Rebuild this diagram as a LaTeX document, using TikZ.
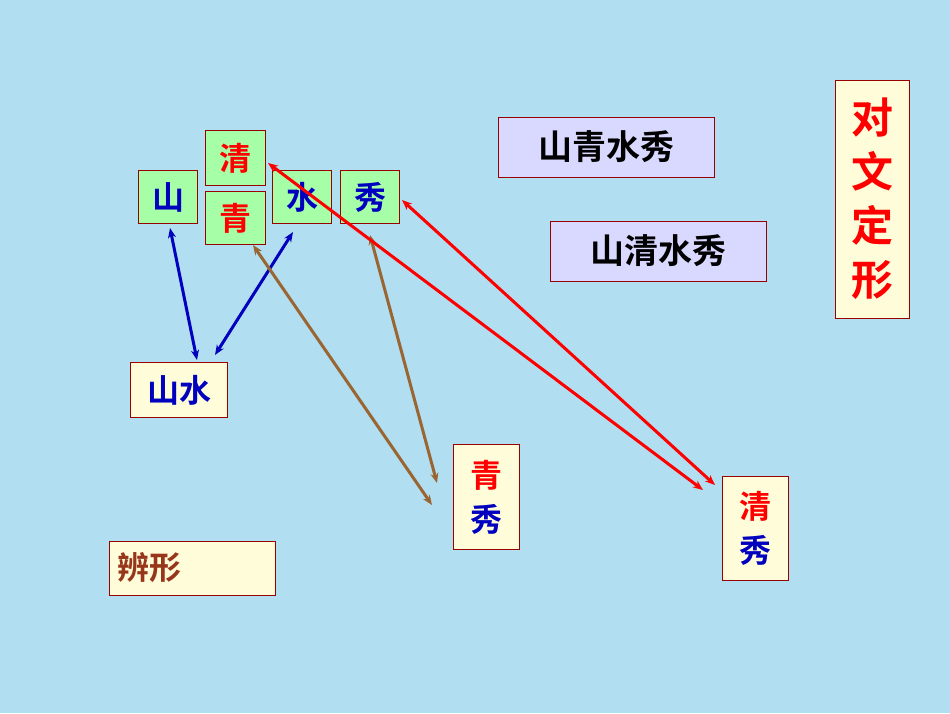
\documentclass[tikz,border=0pt]{standalone}
\usepackage{fontspec}
\usetikzlibrary{arrows.meta}
\newfontfamily\cjk{Noto Sans CJK SC Bold}
\begin{document}
\begin{tikzpicture}[x=1pt,y=-1pt,
 gbox/.style={draw=red!60!black,fill=green!35!white,line width=1pt},
 cbox/.style={draw=red!60!black,fill=yellow!15!white,line width=1pt},
 lbox/.style={draw=red!60!black,fill=blue!15!white,line width=1pt},
 lab/.style={font=\cjk\fontsize{32}{36}\selectfont},
 arr/.style={{Stealth[length=10pt,width=8pt]}-{Stealth[length=10pt,width=8pt]},line width=3pt}]
\fill[cyan!25!white!90!teal] (0,0) rectangle (950,713);
\useasboundingbox (0,0) rectangle (950,713);
\node[gbox,minimum width=60,minimum height=55,lab,text=red] (qing) at (235,158) {清};
\node[gbox,minimum width=59,minimum height=53,lab,text=blue!75!black] (shan) at (168,197) {山};
\node[gbox,minimum width=60,minimum height=53,lab,text=red] (qing2) at (235,218) {青};
\node[gbox,minimum width=59,minimum height=53,lab,text=blue!75!black] (shui) at (302,197) {水};
\node[gbox,minimum width=59,minimum height=53,lab,text=blue!75!black] (xiu) at (370,197) {秀};
\node[cbox,minimum width=97,minimum height=55,lab,text=blue!75!black] (shanshui) at (179,390) {山水};
\node[lbox,minimum width=216,minimum height=60,font=\cjk\fontsize{34}{40}\selectfont] (t1) at (606,147) {山青水秀};
\node[lbox,minimum width=216,minimum height=60,font=\cjk\fontsize{34}{40}\selectfont] (t2) at (658,251) {山清水秀};
\node[cbox,minimum width=74,minimum height=238,align=center,text=red,font=\cjk\fontsize{42}{54}\selectfont] (dw) at (872,199) {对\\文\\定\\形};
\node[cbox,minimum width=66,minimum height=105,align=center,font=\cjk\fontsize{32}{44}\selectfont] (qx) at (486,497) {\textcolor{red}{青}\\\textcolor{blue!75!black}{秀}};
\node[cbox,minimum width=66,minimum height=104,align=center,font=\cjk\fontsize{32}{44}\selectfont] (qx2) at (755,528) {\textcolor{red}{清}\\\textcolor{blue!75!black}{秀}};
\node[cbox,minimum width=166,minimum height=54,text width=150,align=left,lab,text=brown!60!red!70!black] (bx) at (192,568) {辨形};
\draw[arr,blue!75!black] (170,228) -- (197,360);
\draw[arr,blue!75!black] (293,232) -- (215,355);
\draw[arr,brown!80!black] (253,245) -- (432,505);
\draw[arr,brown!80!black] (370,235) -- (437,483);
\draw[arr,red] (268,163) -- (703,490);
\draw[arr,red] (402,200) -- (715,485);
\end{tikzpicture}
\end{document}
